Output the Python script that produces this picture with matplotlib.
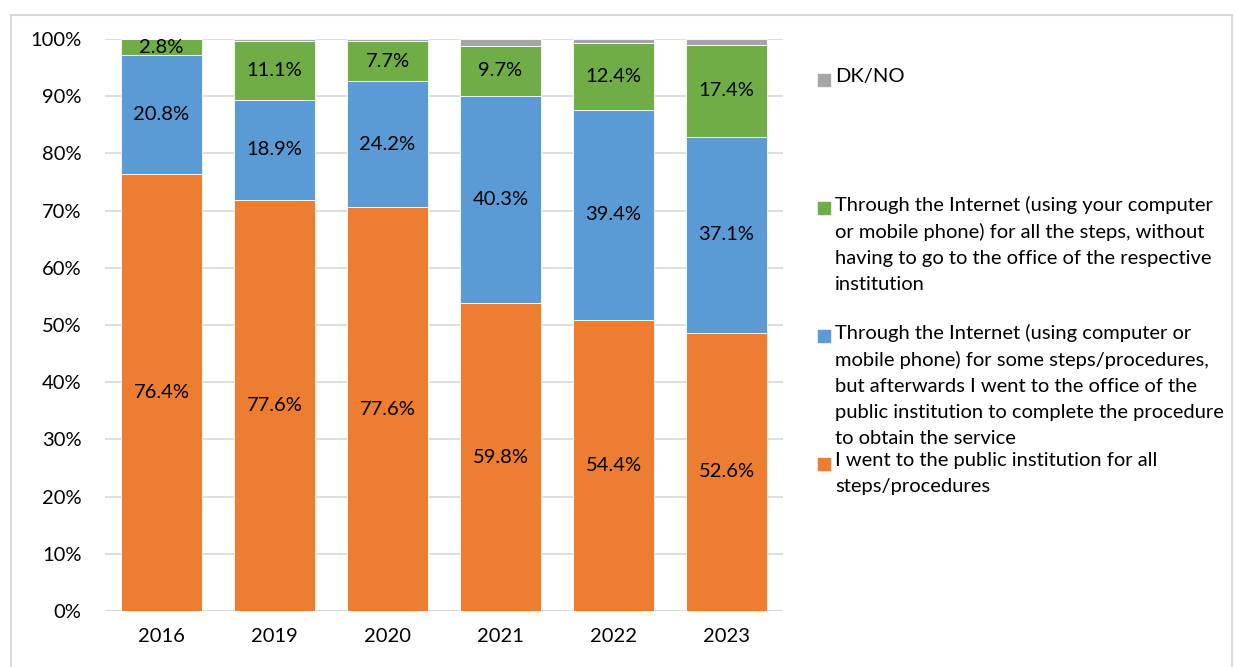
import numpy as np
import matplotlib.pyplot as plt
from matplotlib.patches import Rectangle

plt.rcParams['font.family'] = ['Lato', 'DejaVu Sans']

years = ["2016", "2019", "2020", "2021", "2022", "2023"]
went_office = [76.4, 77.6, 77.6, 59.8, 54.4, 52.6]
internet_some = [20.8, 18.9, 24.2, 40.3, 39.4, 37.1]
internet_all = [2.8, 11.1, 7.7, 9.7, 12.4, 17.4]
dk_no = [0.0, 0.4, 0.4, 1.3, 0.8, 1.1]

series_labels = [
    "I went to the public institution for all\nsteps/procedures",
    "Through the Internet (using computer or\nmobile phone) for some steps/procedures,\n"
    "but afterwards I went to the office of the\npublic institution to complete the procedure\n"
    "to obtain the service",
    "Through the Internet (using your computer\nor mobile phone) for all the steps, without\n"
    "having to go to the office of the respective\ninstitution",
    "DK/NO",
]
colors = ["#ED7D31", "#5B9BD5", "#70AD47", "#A5A5A5"]


def main():
    fig = plt.figure(figsize=(12.36, 6.67), dpi=100)
    W, H = 1236, 667
    ax = fig.add_axes([105 / W, 1 - 611 / H, 678 / W, 572 / H])

    raw = np.array([went_office, internet_some, internet_all, dk_no])
    # Excel 100% stacked: each column normalised by its total
    share = raw / raw.sum(axis=0) * 100
    x = np.arange(len(years))
    bottom = np.zeros(len(years))
    for i in range(4):
        ax.bar(x, share[i], 0.725, bottom=bottom, color=colors[i],
               edgecolor="white", linewidth=0.6, zorder=3)
        if i < 3:
            for j in range(len(years)):
                ax.text(x[j], bottom[j] + share[i][j] / 2, f"{raw[i][j]:.1f}%",
                        ha="center", va="center", fontsize=14.5, color="black", zorder=4)
        bottom += share[i]

    ax.set_xlim(-0.5, len(years) - 0.5)
    ax.set_ylim(0, 100)
    ax.set_yticks(np.arange(0, 101, 10))
    ax.set_yticklabels([f"{v}%" for v in range(0, 101, 10)], fontsize=14.5)
    ax.set_xticks(x)
    ax.set_xticklabels(years, fontsize=14.5)
    ax.tick_params(length=0, pad=17, axis="y")
    ax.tick_params(length=0, pad=12, axis="x")
    ax.grid(axis="y", color="#D9D9D9", linewidth=1.2, zorder=0)
    for s in ax.spines.values():
        s.set_visible(False)
    ax.axhline(0, color="#D9D9D9", linewidth=1.5, zorder=2)

    # legend drawn by hand, Excel style spacing
    legend_y = [80, 208, 336, 464]
    for i, yy in zip([3, 2, 1, 0], legend_y):
        fig.patches.append(Rectangle((818 / W, 1 - (yy + 6) / H), 12 / W, 12 / H,
                                     transform=fig.transFigure, color=colors[i]))
        fig.text(835 / W, 1 - (yy - 12) / H, series_labels[i], ha="left", va="top",
                 fontsize=14.5, linespacing=1.62)

    # outer frame of the chart
    fig.patches.append(Rectangle((11 / W, -0.05), 1221 / W, 1 - 15 / H + 0.05,
                                 transform=fig.transFigure, fill=False,
                                 edgecolor="#D9D9D9", linewidth=1.5))

    fig.savefig("out.png", dpi=100)


if __name__ == '__main__':
    main()
